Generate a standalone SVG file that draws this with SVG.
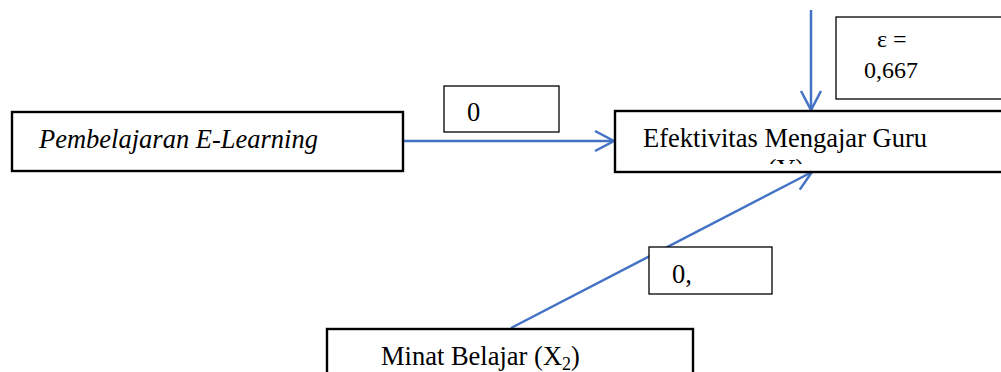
<svg xmlns="http://www.w3.org/2000/svg" width="1001" height="372" viewBox="0 0 1001 372">
<style>
.box{fill:#fff;stroke:#000;stroke-width:2.4}
.lbl{fill:#fff;stroke:#000;stroke-width:1.3}
.t{font-family:"Liberation Serif","Times New Roman",serif;font-size:26.5px;fill:#000}
.e{font-family:"Liberation Serif","Times New Roman",serif;font-size:24px;fill:#000}
.c{stroke:#4472C4;stroke-width:2.5;fill:none}
</style>
<defs>
<marker id="ah" markerUnits="userSpaceOnUse" markerWidth="40" markerHeight="40" viewBox="-25 -20 40 40" refX="0" refY="0" orient="auto">
<path d="M-19,-10 L0,0 L-19,10" fill="none" stroke="#4472C4" stroke-width="2.5"/>
</marker>
<clipPath id="yclip"><rect x="615" y="150" width="400" height="14"/></clipPath>
</defs>
<rect x="0" y="0" width="1001" height="372" fill="#fff"/>
<g id="connectors">
<line class="c" x1="403" y1="141" x2="614" y2="141" marker-end="url(#ah)"/>
<line class="c" x1="811" y1="10" x2="811" y2="110" marker-end="url(#ah)"/>
<line class="c" x1="511" y1="328" x2="812" y2="172" marker-end="url(#ah)"/>
</g>
<g id="node-x1">
<rect class="box" x="12" y="112" width="391" height="59"/>
<text class="t" x="39" y="148" font-style="italic">Pembelajaran E-Learning</text>
</g>
<g id="node-y">
<rect class="box" x="615" y="111" width="420" height="61"/>
<text class="t" x="643" y="147">Efektivitas Mengajar Guru</text>
<text class="t" x="786" y="178" text-anchor="middle" clip-path="url(#yclip)" fill="#777">(Y)</text>
</g>
<g id="node-eps">
<rect class="lbl" x="836" y="17" width="200" height="82"/>
<text class="e" x="877" y="47">ε =</text>
<text class="e" x="864" y="78">0,667</text>
</g>
<g id="label-p1">
<rect class="lbl" x="444" y="86" width="115" height="46"/>
<text class="t" x="467" y="121">0</text>
</g>
<g id="label-p2">
<rect class="lbl" x="649" y="247" width="123" height="47"/>
<text class="t" x="672" y="283">0,</text>
</g>
<g id="node-x2">
<rect class="box" x="327" y="329" width="366" height="60"/>
<text class="t" x="381" y="365">Minat Belajar (X<tspan font-size="18" dy="5">2</tspan><tspan dy="-5">)</tspan></text>
</g>
</svg>
